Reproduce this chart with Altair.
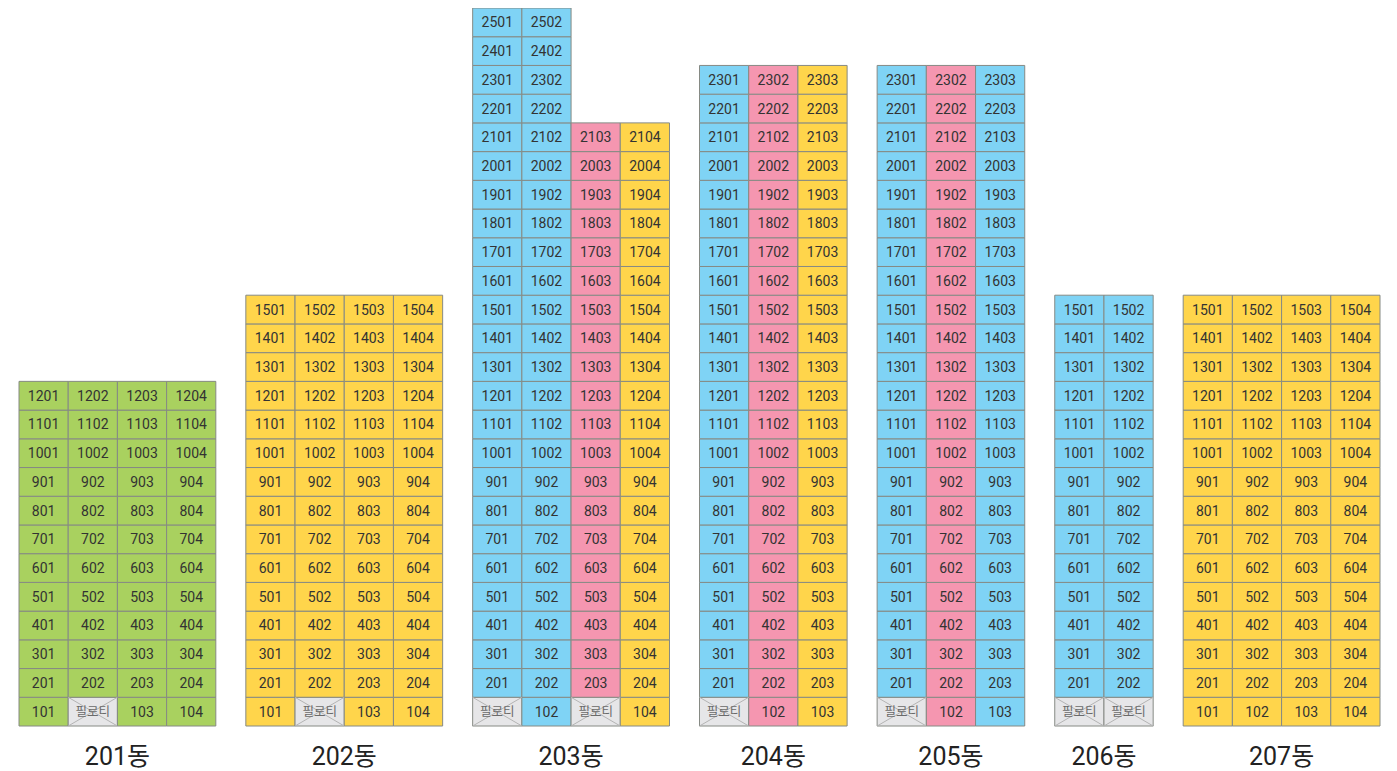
import altair as alt
import pandas as pd

# ---- data ----
buildings = ["201동", "202동", "203동", "204동", "205동", "206동", "207동"]
floors_per_line = [
    [12, 12, 12, 12],
    [15, 15, 15, 15],
    [25, 25, 21, 21],
    [23, 23, 23],
    [23, 23, 23],
    [15, 15],
    [15, 15, 15, 15],
]
line_colors = [
    ["green", "green", "green", "green"],
    ["yellow", "yellow", "yellow", "yellow"],
    ["blue", "blue", "pink", "yellow"],
    ["blue", "pink", "yellow"],
    ["blue", "pink", "blue"],
    ["blue", "blue"],
    ["yellow", "yellow", "yellow", "yellow"],
]
piloti_units = [
    [102],
    [102],
    [101, 103],
    [101],
    [101],
    [101, 102],
    [],
]
color_names = ["green", "yellow", "blue", "pink", "piloti"]
color_values = ["#a9d15f", "#ffd54b", "#7fd3f5", "#f596b0", "#e6e6e8"]

GAP = 0.61  # gap between buildings, in unit-column widths

rows = []
labels = []
start = 0.0
for b, name in enumerate(buildings):
    lines = floors_per_line[b]
    for li, nfl in enumerate(lines):
        for fl in range(1, nfl + 1):
            unit = fl * 100 + li + 1
            pil = unit in piloti_units[b]
            rows.append({
                "bldg": name,
                "x0": start + li, "x1": start + li + 1,
                "y0": fl - 1, "y1": fl,
                "xc": start + li + 0.5, "yc": fl - 0.5,
                "label": "필로티" if pil else str(unit),
                "kind": "piloti" if pil else line_colors[b][li],
            })
    labels.append({"bldg": name, "xc": start + len(lines) / 2, "yc": -1.0})
    start += len(lines) + GAP
total = start - GAP

df = pd.DataFrame(rows)
lab = pd.DataFrame(labels)
pil = df[df.kind == "piloti"]
units = df[df.kind != "piloti"]

W, H = 1361, 718
xs = alt.Scale(domain=[0, total], nice=False, zero=False)
ys = alt.Scale(domain=[0, 25], nice=False, zero=False)
FONT = "Roboto, Noto Sans CJK KR, sans-serif"

base = alt.Chart(df)

cells = base.mark_rect(stroke="#868a84", strokeWidth=1).encode(
    x=alt.X("x0:Q", scale=xs, axis=None),
    x2="x1:Q",
    y=alt.Y("y0:Q", scale=ys, axis=None),
    y2="y1:Q",
    fill=alt.Fill("kind:N", scale=alt.Scale(domain=color_names, range=color_values), legend=None),
)

diag1 = alt.Chart(pil).mark_rule(color="#b4b4b4", strokeWidth=1).encode(
    x=alt.X("x0:Q", scale=xs), x2="x1:Q",
    y=alt.Y("y0:Q", scale=ys), y2="y1:Q",
)
diag2 = alt.Chart(pil).mark_rule(color="#b4b4b4", strokeWidth=1).encode(
    x=alt.X("x0:Q", scale=xs), x2="x1:Q",
    y=alt.Y("y1:Q", scale=ys), y2="y0:Q",
)

unit_text = alt.Chart(units).mark_text(font=FONT, fontSize=14, color="#333333", dy=1).encode(
    x=alt.X("xc:Q", scale=xs), y=alt.Y("yc:Q", scale=ys), text="label:N"
)
pil_text = alt.Chart(pil).mark_text(font=FONT, fontSize=12.5, color="#6a6a6a").encode(
    x=alt.X("xc:Q", scale=xs), y=alt.Y("yc:Q", scale=ys), text="label:N"
)
bldg_text = alt.Chart(lab).mark_text(font=FONT, fontSize=25, fontWeight="normal", color="#222222",
                                     dy=2).encode(
    x=alt.X("xc:Q", scale=xs), y=alt.Y("yc:Q", scale=ys), text="bldg:N"
)

chart = alt.layer(cells, diag1, diag2, unit_text, pil_text, bldg_text).properties(
    width=W, height=H,
    padding={"left": 11, "top": 0, "right": 5, "bottom": 45},
    autosize=alt.AutoSizeParams(type="none"),
).configure_view(stroke=None)

chart.save("out.html", embed_options={"renderer": "svg", "actions": False})
